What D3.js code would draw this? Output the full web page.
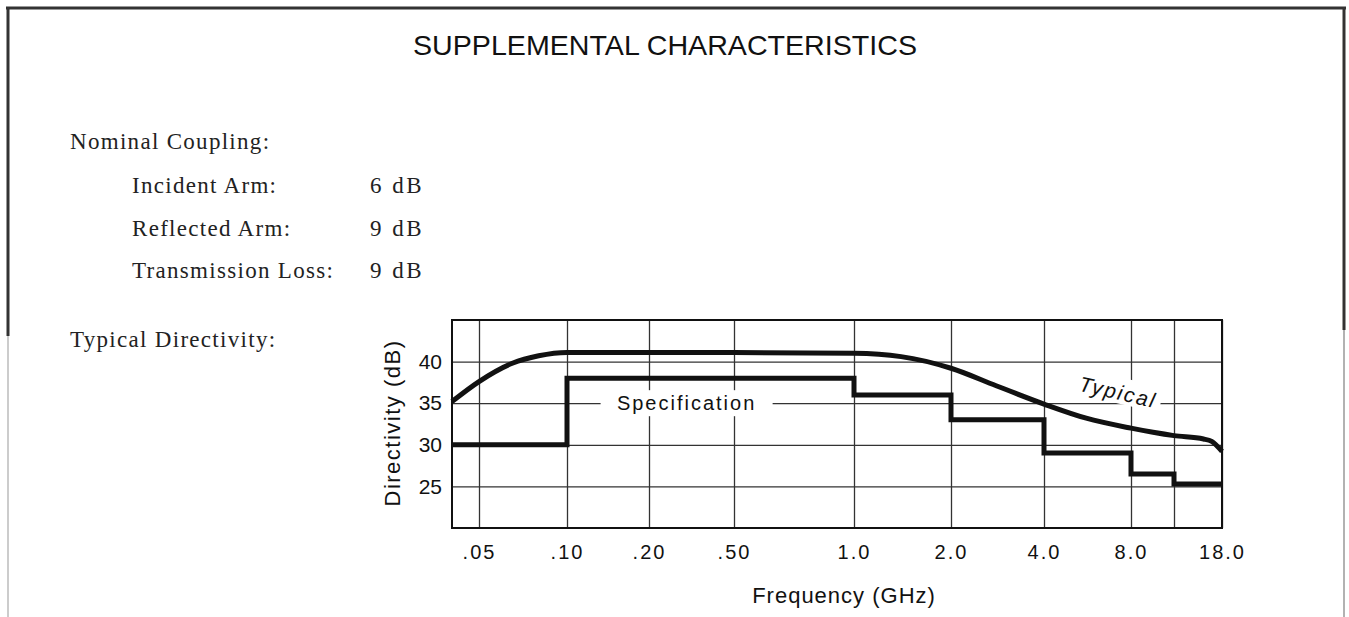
<!DOCTYPE html>
<html>
<head>
<meta charset="utf-8">
<script src="https://cdn.jsdelivr.net/npm/d3@7"></script>
<style>
  body { margin: 0; background: #fff; }
  svg { display: block; }
</style>
</head>
<body>
<div id="sheet"></div>
<script>
// Page size
var svgWidth = 1349;
var svgHeight = 617;

// Text block on the left
var specLabels = ["Incident Arm:", "Reflected Arm:", "Transmission Loss:"];
var specValues = ["6 dB", "9 dB", "9 dB"];

// Frequency axis (GHz) - the printed grid is not evenly logarithmic,
// so the scale is built piecewise through these break points
var freqBreaks = [0.04, 0.05, 0.1, 0.2, 0.5, 1, 2, 4, 8, 12, 18];
var freqBreakPos = [0, 27, 115, 197, 282, 402, 499, 592, 679, 722, 770];
var freqTicks = [0.05, 0.1, 0.2, 0.5, 1, 2, 4, 8, 12, 18];
var freqTickLabels = [".05", ".10", ".20", ".50", "1.0", "2.0", "4.0", "8.0", "", "18.0"];

// Directivity axis (dB)
var dbTicks = [25, 30, 35, 40];

// Specification (step) curve
var specFreq = [0.04, 0.1, 1, 2, 4, 8, 12, 18];
var specDir = [30, 38, 36, 33, 29, 26.5, 25.3, 25.3];

// Typical curve
var typFreq = [0.04, 0.05, 0.065, 0.08, 0.1, 0.2, 0.5, 1.0, 1.4, 2.0, 2.8, 4.0, 5.6, 8.0, 9.85, 12, 15.4, 16.5, 18];
var typDir = [35.2, 37.6, 39.8, 40.7, 41.1, 41.1, 41.1, 41.0, 40.6, 39.2, 37.1, 34.9, 33.2, 32.0, 31.5, 31.1, 30.7, 30.4, 29.2];

// Plot area
var plot = { left: 452, top: 320, width: 770, height: 208 };

var svg = d3.select("#sheet")
    .append("svg")
    .attr("width", svgWidth)
    .attr("height", svgHeight);

// Frame round the sheet
var frame = svg.append("g").attr("fill", "none");
frame.append("line").attr("x1", 6).attr("x2", 1346).attr("y1", 8).attr("y2", 8)
    .attr("stroke", "#333").attr("stroke-width", 3);
frame.append("line").attr("x1", 8).attr("x2", 8).attr("y1", 7).attr("y2", 336)
    .attr("stroke", "#333").attr("stroke-width", 3);
frame.append("line").attr("x1", 8).attr("x2", 8).attr("y1", 336).attr("y2", 617)
    .attr("stroke", "#999").attr("stroke-width", 1);
frame.append("line").attr("x1", 1344).attr("x2", 1344).attr("y1", 7).attr("y2", 330)
    .attr("stroke", "#333").attr("stroke-width", 3);
frame.append("line").attr("x1", 1344).attr("x2", 1344).attr("y1", 330).attr("y2", 617)
    .attr("stroke", "#999").attr("stroke-width", 1.5);

// Title
svg.append("text")
    .attr("x", 413)
    .attr("y", 55)
    .attr("font-family", "Liberation Sans, Arial, sans-serif")
    .attr("font-size", 28)
    .attr("textLength", 504)
    .attr("lengthAdjust", "spacingAndGlyphs")
    .attr("fill", "#111")
    .text("SUPPLEMENTAL CHARACTERISTICS");

// Left text block
var serif = svg.append("g")
    .attr("font-family", "Liberation Serif, Times New Roman, serif")
    .attr("font-size", 23)
    .attr("letter-spacing", "1.3px")
    .attr("fill", "#222");

serif.append("text").attr("x", 70).attr("y", 149).text("Nominal Coupling:");

specLabels.forEach(function(label, i) {
    serif.append("text").attr("x", 132).attr("y", 193 + i * 42.5).text(label);
    serif.append("text").attr("x", 370).attr("y", 193 + i * 42.5)
        .attr("letter-spacing", "2.5px")
        .text(specValues[i]);
});

serif.append("text").attr("x", 70).attr("y", 347).text("Typical Directivity:");

// Scales
var xScale = d3.scaleLog()
    .domain(freqBreaks)
    .range(freqBreakPos);

var yScale = d3.scaleLinear()
    .domain([20, 45])
    .range([plot.height, 0]);

var chartGroup = svg.append("g")
    .attr("transform", `translate(${plot.left}, ${plot.top})`);

// Grid + tick labels through the axes
var bottomAxis = d3.axisBottom(xScale)
    .tickValues(freqTicks)
    .tickSize(-plot.height)
    .tickPadding(17)
    .tickFormat((d, i) => freqTickLabels[i]);

var leftAxis = d3.axisLeft(yScale)
    .tickValues(dbTicks)
    .tickSize(-plot.width)
    .tickPadding(10);

var xAxisG = chartGroup.append("g")
    .attr("transform", `translate(0, ${plot.height})`)
    .call(bottomAxis);

var yAxisG = chartGroup.append("g")
    .call(leftAxis);

[xAxisG, yAxisG].forEach(function(g) {
    g.select(".domain").remove();
    g.selectAll(".tick line")
        .attr("stroke", "#333")
        .attr("stroke-width", 1.3);
    g.attr("font-family", "Liberation Sans, Arial, sans-serif")
        .attr("font-size", 20);
    g.selectAll(".tick text").attr("fill", "#111");
});
xAxisG.selectAll(".tick text").attr("letter-spacing", "2px");
yAxisG.attr("font-size", 21);

// Axis titles
chartGroup.append("text")
    .attr("x", 392 - plot.left)
    .attr("y", 0)
    .attr("transform", `translate(0, ${423 - plot.top}) rotate(-90, ${392 - plot.left}, 0)`)
    .attr("text-anchor", "middle")
    .attr("dy", "0.35em")
    .attr("font-family", "Liberation Sans, Arial, sans-serif")
    .attr("font-size", 22)
    .attr("letter-spacing", "1.5px")
    .attr("fill", "#111")
    .text("Directivity (dB)");

chartGroup.append("text")
    .attr("x", 844 - plot.left)
    .attr("y", 603 - plot.top)
    .attr("text-anchor", "middle")
    .attr("font-family", "Liberation Sans, Arial, sans-serif")
    .attr("font-size", 22)
    .attr("letter-spacing", "1px")
    .attr("fill", "#111")
    .text("Frequency (GHz)");

// Plot border
chartGroup.append("rect")
    .attr("width", plot.width)
    .attr("height", plot.height)
    .attr("fill", "none")
    .attr("stroke", "#111")
    .attr("stroke-width", 2);

// Specification label (with a white gap in the grid)
var specLabelX = xScale(0.3);
chartGroup.append("rect")
    .attr("x", specLabelX - 86)
    .attr("y", yScale(35) - 13)
    .attr("width", 172)
    .attr("height", 26)
    .attr("fill", "#fff");
chartGroup.append("text")
    .attr("x", specLabelX)
    .attr("y", yScale(35))
    .attr("dy", "0.36em")
    .attr("text-anchor", "middle")
    .attr("font-family", "Liberation Sans, Arial, sans-serif")
    .attr("font-size", 20)
    .attr("letter-spacing", "2px")
    .attr("fill", "#111")
    .text("Specification");

// Typical label, tilted along the curve
var typLabel = chartGroup.append("g")
    .attr("transform", `translate(${xScale(7.2)}, ${yScale(36.2)}) rotate(13)`);
typLabel.append("rect")
    .attr("x", -44).attr("y", -16)
    .attr("width", 88).attr("height", 26)
    .attr("fill", "#fff");
typLabel.append("text")
    .attr("text-anchor", "middle")
    .attr("dy", "0.3em")
    .attr("font-family", "Liberation Sans, Arial, sans-serif")
    .attr("font-size", 21)
    .attr("font-style", "italic")
    .attr("letter-spacing", "2px")
    .attr("fill", "#111")
    .text("Typical");

// Specification step line
var specLine = d3.line()
    .x((d, i) => xScale(specFreq[i]))
    .y((d, i) => yScale(specDir[i]))
    .curve(d3.curveStepAfter);

chartGroup.append("path")
    .datum(specFreq)
    .attr("d", specLine)
    .attr("fill", "none")
    .attr("stroke", "#111")
    .attr("stroke-width", 5)
    .attr("stroke-linejoin", "miter");

// Typical curve
var typLine = d3.line()
    .x((d, i) => xScale(typFreq[i]))
    .y((d, i) => yScale(typDir[i]))
    .curve(d3.curveMonotoneX);

chartGroup.append("path")
    .datum(typFreq)
    .attr("d", typLine)
    .attr("fill", "none")
    .attr("stroke", "#111")
    .attr("stroke-width", 5)
    .attr("stroke-linecap", "butt");
</script>
</body>
</html>
